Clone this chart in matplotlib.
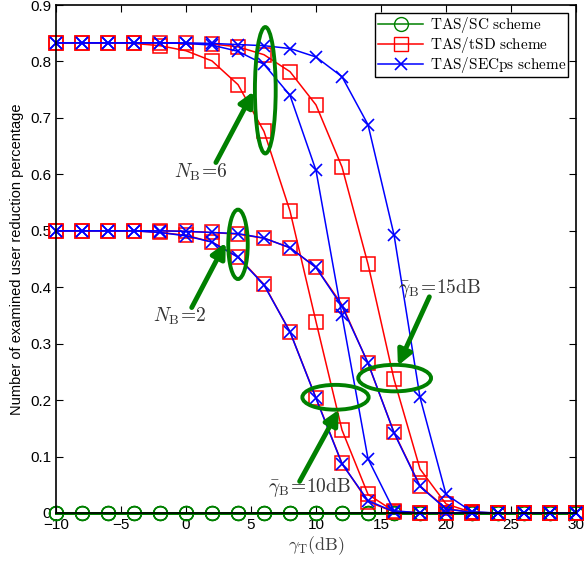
import numpy as np
import matplotlib
matplotlib.use('Agg')
import matplotlib.pyplot as plt
from matplotlib.patches import Ellipse
from matplotlib.lines import Line2D

plt.rcParams['mathtext.fontset'] = 'cm'
plt.rcParams['font.family'] = ['Liberation Sans', 'DejaVu Sans']

# -------------- data --------------
gamma_t = np.arange(-10, 31, 2)

sc_all = np.zeros(len(gamma_t))

tsd_nb6_10 = [0.833, 0.833, 0.833, 0.832, 0.828, 0.819, 0.801, 0.759, 0.676, 0.535, 0.339,
              0.147, 0.033, 0.003, 0, 0, 0, 0, 0, 0, 0]
tsd_nb6_15 = [0.833, 0.833, 0.833, 0.833, 0.833, 0.832, 0.831, 0.826, 0.812, 0.782, 0.723,
              0.613, 0.441, 0.237, 0.078, 0.016, 0.001, 0, 0, 0, 0]
tsd_nb2_10 = [0.5, 0.5, 0.5, 0.5, 0.497, 0.492, 0.480, 0.454, 0.405, 0.321, 0.204,
              0.088, 0.020, 0.002, 0, 0, 0, 0, 0, 0, 0]
tsd_nb2_15 = [0.5, 0.5, 0.5, 0.5, 0.5, 0.499, 0.497, 0.494, 0.487, 0.470, 0.435,
              0.369, 0.265, 0.143, 0.048, 0.008, 0.001, 0, 0, 0, 0]

sec_nb6_10 = [0.833, 0.833, 0.833, 0.833, 0.833, 0.832, 0.829, 0.818, 0.795, 0.740, 0.607,
              0.350, 0.096, 0.004, 0, 0, 0, 0, 0, 0, 0]
sec_nb6_15 = [0.833, 0.833, 0.833, 0.833, 0.833, 0.833, 0.832, 0.830, 0.828, 0.823, 0.808,
              0.773, 0.688, 0.493, 0.205, 0.033, 0.002, 0, 0, 0, 0]
sec_nb2_10 = [0.5, 0.5, 0.5, 0.5, 0.497, 0.491, 0.480, 0.453, 0.404, 0.321, 0.203,
              0.087, 0.022, 0.002, 0, 0, 0, 0, 0, 0, 0]
sec_nb2_15 = [0.5, 0.5, 0.5, 0.5, 0.5, 0.499, 0.497, 0.495, 0.487, 0.470, 0.435,
              0.366, 0.266, 0.142, 0.047, 0.007, 0.001, 0, 0, 0, 0]

green = (0, 0.5, 0)

fig = plt.figure(figsize=(5.84, 5.61), dpi=100)
ax = fig.add_axes([0.0959, 0.0856, 0.8904, 0.9054])

# TAS/SC (all four cases are zero)
for i in range(4):
    ax.plot(gamma_t, sc_all, '-o', color=green, mfc='none', ms=10, lw=1.8, clip_on=False)

# TAS/tSD
for s in [tsd_nb6_10, tsd_nb6_15, tsd_nb2_10, tsd_nb2_15]:
    ax.plot(gamma_t, s, '-s', color='red', mfc='none', ms=10, lw=1.1, mew=1.1, clip_on=False)

# TAS/SECps
for s in [sec_nb6_10, sec_nb6_15, sec_nb2_10, sec_nb2_15]:
    ax.plot(gamma_t, s, '-x', color='blue', ms=9, lw=1.1, mew=1.2, clip_on=False)

# -------------- annotations --------------
ell_kw = dict(fill=False, edgecolor=green, lw=2.8, zorder=5)
ax.add_patch(Ellipse((6.1, 0.749), 1.6, 0.224, **ell_kw))
ax.add_patch(Ellipse((4.0, 0.476), 1.5, 0.123, **ell_kw))
ax.add_patch(Ellipse((11.5, 0.205), 5.1, 0.044, **ell_kw))
ax.add_patch(Ellipse((16.05, 0.239), 5.6, 0.047, **ell_kw))

arr = dict(arrowstyle='-|>', color=green, lw=3.5, mutation_scale=22, shrinkA=0, shrinkB=0)
ax.annotate('', xy=(5.2, 0.747), xytext=(2.3, 0.621), arrowprops=arr, zorder=6)
ax.annotate('', xy=(3.06, 0.479), xytext=(0.44, 0.364), arrowprops=arr, zorder=6)
ax.annotate('', xy=(11.76, 0.183), xytext=(8.74, 0.056), arrowprops=arr, zorder=6)
ax.annotate('', xy=(16.3, 0.261), xytext=(18.72, 0.383), arrowprops=arr, zorder=6)

ax.text(1.14, 0.603, r'$N_{\mathrm{B}}\!=\!6$', fontsize=14, ha='center', va='center', color='0.2')
ax.text(-0.48, 0.348, r'$N_{\mathrm{B}}\!=\!2$', fontsize=14, ha='center', va='center', color='0.2')
ax.text(9.5, 0.046, r'$\bar{\gamma}_{\mathrm{B}}\!=\!10\mathrm{dB}$', fontsize=14, ha='center', va='center', color='0.2')
ax.text(19.5, 0.397, r'$\bar{\gamma}_{\mathrm{B}}\!=\!15\mathrm{dB}$', fontsize=14, ha='center', va='center', color='0.2')

# -------------- axes --------------
ax.set_xlim(-10, 30)
ax.set_ylim(0, 0.9)
ax.set_xticks(np.arange(-10, 31, 5))
ax.set_yticks(np.arange(0, 0.91, 0.1))
ax.set_yticklabels(['0', '0.1', '0.2', '0.3', '0.4', '0.5', '0.6', '0.7', '0.8', '0.9'])
ax.tick_params(direction='in', top=True, right=True, labelsize=11, length=5)
for sp in ax.spines.values():
    sp.set_linewidth(1.2)
    sp.set_zorder(10)

ax.set_xlabel(r'$\gamma_{\mathrm{T}}(\mathrm{dB})$', fontsize=13, color='0.25', labelpad=2)
ax.set_ylabel('Number of examined user reduction percentage', fontsize=10.5, labelpad=4)

h_sc = Line2D([], [], color=green, marker='o', mfc='none', ms=10, lw=1.1)
h_tsd = Line2D([], [], color='red', marker='s', mfc='none', ms=10, lw=1.1)
h_sec = Line2D([], [], color='blue', marker='x', ms=9, lw=1.1, mew=1.2)
leg = ax.legend([h_sc, h_tsd, h_sec],
                [r'$\mathrm{TAS/SC\ scheme}$', r'$\mathrm{TAS/tSD\ scheme}$', r'$\mathrm{TAS/SECps\ scheme}$'],
                loc='upper right', fontsize=11, fancybox=False, framealpha=1,
                edgecolor='black', borderaxespad=0.5, handlelength=3.0,
                labelspacing=0.0, borderpad=0.15, handletextpad=0.4)
leg.get_frame().set_linewidth(1.0)
leg.set_zorder(20)

fig.savefig('out.png', dpi=100)
